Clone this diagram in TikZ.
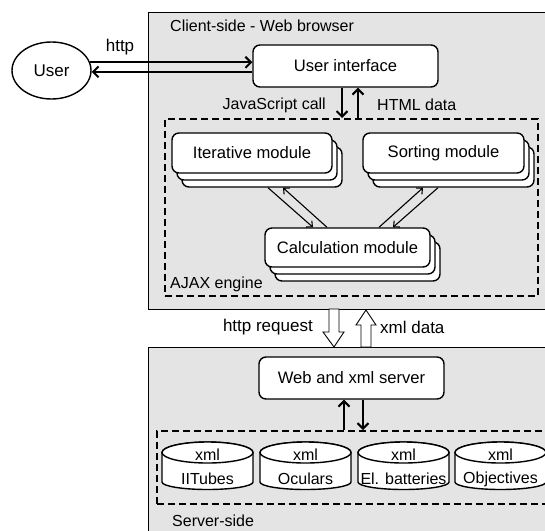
\documentclass[tikz,border=0pt]{standalone}
\usepackage{fontspec}
\setmainfont{Liberation Sans}
\usetikzlibrary{arrows.meta,shadows,calc,shapes.geometric}
\definecolor{panel}{gray}{0.895}
\begin{document}
\begin{tikzpicture}[x=1pt,y=-1pt,
  box/.style={draw,rounded corners=7pt,fill=white,line width=1.4pt,inner sep=0pt,font=\fontsize{16.6}{20}\selectfont},
  stack/.style={box,
    general shadow={shadow xshift=10pt,shadow yshift=-14pt,draw,fill=white},
    general shadow={shadow xshift=5pt,shadow yshift=-7pt,draw,fill=white}},
  lbl/.style={inner sep=0pt,font=\fontsize{16}{19}\selectfont},
  biglbl/.style={inner sep=0pt,font=\fontsize{17}{20}\selectfont},
  thickarrow/.style={line width=2pt,-{Straight Barb[length=5.5pt,width=11pt,line width=2pt]}},
  thinarrow/.style={line width=1.1pt,-{Straight Barb[length=4.5pt,width=8.5pt,line width=1.1pt]}},
  dashbox/.style={draw,dash pattern=on 7pt off 4pt,line width=1.5pt,inner sep=0pt},
  panelbox/.style={draw,fill=panel,line width=1.2pt,inner sep=0pt},
  hollow/.style={draw,fill=white,line width=0.9pt,line join=miter},
  cyl/.style={draw,fill=white,line width=1.4pt},
]
\useasboundingbox (0,0) rectangle (545,530);
\clip (0,0) rectangle (545,530);

% panels
\node[panelbox,minimum width=440,minimum height=297,anchor=north west] (client) at (148,12) {};
\node[panelbox,minimum width=440,minimum height=220,anchor=north west] (server) at (148,347) {};

\node[lbl,anchor=west] (clientlbl) at (170,26) {Client-side - Web browser};
\node[lbl,anchor=west] (serverlbl) at (172,521) {Server-side};

% user
\node[draw,ellipse,line width=1.4pt,fill=white,minimum width=79,minimum height=57,inner sep=0pt,font=\fontsize{17}{20}\selectfont] (user) at (51.5,70.5) {User};
\node[box,minimum width=185,minimum height=42] (ui) at (345.5,66) {User interface};
\node[biglbl] (httplbl) at (120,47) {http};
\draw[thickarrow] (user.12.7) -- (user.12.7 -| ui.west);
\draw[thickarrow] (user.-2.2 -| ui.west) -- (user.-2.2);

% AJAX engine
\node[dashbox,minimum width=373,minimum height=177,anchor=north west] (ajax) at (164,118) {};
\node[lbl,anchor=west] (ajaxlbl) at (170,284) {AJAX engine};
\draw[thickarrow] ([xshift=-3.5pt]ui.south) -- ([xshift=-3.5pt]ui.south |- ajax.north);
\draw[thickarrow] ([xshift=12.5pt]ui.south |- ajax.north) -- ([xshift=12.5pt]ui.south);
\node[lbl,anchor=east] (jslbl) at (326,105) {JavaScript call};
\node[lbl,anchor=west] (htmllbl) at (377,105) {HTML data};

\node[stack,minimum width=160,minimum height=40] (it) at (252,153) {Iterative module};
\node[stack,minimum width=161,minimum height=40] (so) at (443.5,153) {Sorting module};
\node[stack,minimum width=165,minimum height=39] (calc) at (347.5,247.5) {Calculation module};

\draw[thinarrow] ([xshift=16pt,yshift=-14pt]it.south) -- ([xshift=-34.5pt]calc.north);
\draw[thinarrow] ([xshift=-20.5pt]calc.north) -- ([xshift=31pt,yshift=-14pt]it.south);
\draw[thinarrow] ([xshift=31.5pt]calc.north) -- ([xshift=-20.5pt,yshift=-14pt]so.south);
\draw[thinarrow] ([xshift=-5.5pt,yshift=-14pt]so.south) -- ([xshift=45.5pt]calc.north);

% hollow arrows between client and server
\draw[hollow] (329,309) -- (329,332) -- (323,332) -- (334,347) -- (344,332) -- (339,332) -- (339,309) -- cycle;
\draw[hollow] (361,347) -- (361,325) -- (356,325) -- (366,310) -- (376,325) -- (371,325) -- (371,347) -- cycle;
\node[biglbl,anchor=east] (reqlbl) at (313,327) {http request};
\node[biglbl,anchor=west] (xmllbl) at (380,327) {xml data};

% server side
\node[box,minimum width=185,minimum height=42] (web) at (351.5,378) {Web and xml server};
\node[dashbox,minimum width=420,minimum height=73,anchor=north west] (db) at (156,430) {};
\draw[thickarrow] ([xshift=-7.5pt]web.south |- db.north) -- ([xshift=-7.5pt]web.south);
\draw[thickarrow] ([xshift=11.5pt]web.south) -- ([xshift=11.5pt]web.south |- db.north);

\foreach \x/\n/\t in {162/ca/IITubes,260/cb/Oculars,358/cc/El. batteries,455/cd/Objectives}{
  \draw[cyl] (\x,452.5) -- (\x,482) arc[start angle=180,end angle=360,x radius=45.5pt,y radius=7.5pt]
     -- (\x+91,452.5) arc[start angle=0,end angle=180,x radius=45.5pt,y radius=10.5pt] -- cycle;
  \draw[cyl] (\x+45.5,452.5) ellipse[x radius=45.5pt,y radius=10.5pt];
  \node[lbl] (\n x) at (\x+45.5,455) {xml};
  \node[lbl] (\n) at (\x+45.5,479) {\t};
}
\end{tikzpicture}
\end{document}
